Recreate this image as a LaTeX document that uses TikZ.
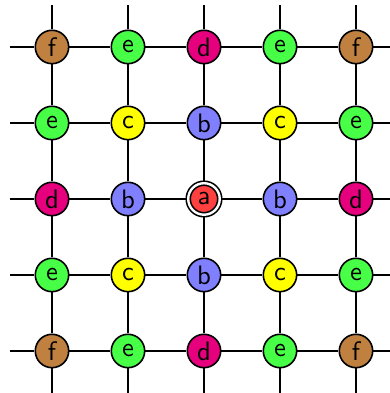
\documentclass[tikz,border=0pt]{standalone}
\usetikzlibrary{backgrounds}
\definecolor{cola}{RGB}{255,64,64}
\definecolor{colb}{RGB}{128,128,255}
\definecolor{colc}{RGB}{255,255,0}
\definecolor{cold}{RGB}{230,0,126}
\definecolor{cole}{RGB}{72,255,72}
\definecolor{colf}{RGB}{191,128,64}
\begin{document}
\begin{tikzpicture}[
  nodo/.style={draw=black, semithick, circle, minimum size=12.5pt, inner sep=0pt, font=\sffamily},
  linea/.style={draw=black, semithick},
  tipo-a/.style={nodo, fill=cola, minimum size=11.8pt, double=white, double distance=0.9pt},
  tipo-b/.style={nodo, fill=colb},
  tipo-c/.style={nodo, fill=colc},
  tipo-d/.style={nodo, fill=cold},
  tipo-e/.style={nodo, fill=cole},
  tipo-f/.style={nodo, fill=colf}
]
\clip (-0.684,-4.553) rectangle (4.447,0.618);

\foreach \f/\fila in {0/{f,e,d,e,f},1/{e,c,b,c,e},2/{d,b,a,b,d},3/{e,c,b,c,e},4/{f,e,d,e,f}}
  \foreach \l [count=\c from 0] in \fila
    \node[tipo-\l] (n\f\c) at (\c,-\f) {\l};

\begin{scope}[on background layer]
\foreach \i in {0,...,4} {
  \coordinate (oeste\i) at (-0.55,-\i);
  \coordinate (este\i)  at (4.55,-\i);
  \coordinate (norte\i) at (\i,0.55);
  \coordinate (sur\i)   at (\i,-4.55);
  \draw[linea] (oeste\i) -- (n\i0) -- (n\i1) -- (n\i2) -- (n\i3) -- (n\i4) -- (este\i);
  \draw[linea] (norte\i) -- (n0\i) -- (n1\i) -- (n2\i) -- (n3\i) -- (n4\i) -- (sur\i);
}
\end{scope}
\end{tikzpicture}
\end{document}
